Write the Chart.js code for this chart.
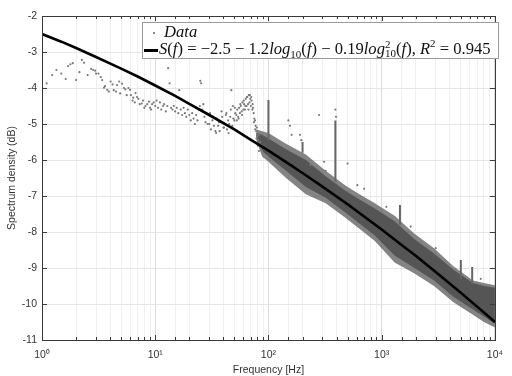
<!DOCTYPE html>
<html>
<head>
<meta charset="utf-8">
<script src="https://cdn.jsdelivr.net/npm/chart.js@4.4.1/dist/chart.umd.min.js"></script>
<style>
  html, body { margin: 0; padding: 0; background: #fff; }
  #wrap { position: relative; width: 512px; height: 376px; }
  #legend {
    position: absolute; left: 142px; top: 22px; width: 357px; height: 37px;
    background: #fff; border: 1px solid #9a9a9a; box-sizing: border-box;
    font-family: "Liberation Serif", "DejaVu Serif", serif; font-size: 16.6px; color: #111;
  }
  #legend .row { position: absolute; left: 0; white-space: nowrap; line-height: 16px; }
  #legend .dot { position: absolute; left: 10px; top: 8px; width: 2px; height: 2px; background: #888; }
  #legend .bar { position: absolute; left: 1px; top: 8px; width: 14px; height: 3px; background: #000; }
  #legend sub, #legend sup { font-size: 11px; line-height: 0; }
  #legend .ss { display: inline-block; vertical-align: middle; line-height: 9px; font-size: 11px; text-align: left; margin-top: -2px; }
</style>
</head>
<body>
<div id="wrap">
  <canvas id="chart" width="512" height="376"></canvas>
  <div id="legend">
    <div class="row" style="top:1px; width:100%;"><span class="dot"></span><i style="position:absolute; left:21px;">Data</i></div>
    <div class="row" style="top:18px; width:100%;"><span class="bar"></span><span style="position:absolute; left:16px;"><i>S</i>(<i>f</i>) = −2.5 − 1.2<i>log</i><sub>10</sub>(<i>f</i>) − 0.19<i>log</i><span class="ss">2<br>10</span>(<i>f</i>), <i>R</i><sup>2</sup> = 0.945</span></div>
  </div>
</div>
<script>
const dataFreq = [
  1.1, 1.23, 1.34, 1.48, 1.62, 1.7, 1.78, 1.87, 2.0, 2.14, 2.25, 2.35, 2.53, 2.72, 2.83, 2.95, 3.15, 3.4, 3.53, 3.77, 4.04, 4.3, 4.6, 4.8, 5.1, 5.45, 5.8, 6.1, 6.4, 6.7, 7.1, 7.6, 8.2, 8.8, 9.4, 10,
  3.0, 3.3, 3.6, 3.9, 4.2, 4.5, 4.9, 5.3, 5.6, 6.0, 6.3, 6.6, 6.9, 7.3, 7.8, 8.0, 8.5, 9.0, 9.2, 9.7,
  10.3, 10.6, 11, 11.3, 11.7, 12, 12.4, 12.8, 13, 13.4, 13.8, 14.2, 14.6, 15, 15.5, 16, 16.3, 16.8, 17.3, 17.8, 18.3, 18.8, 19.4, 20, 20.6, 21.2, 21.8, 22.4, 23, 23.6, 24.2, 24.8, 25, 25.4, 26, 26.6, 27.2, 27.8, 28.4, 29,
  30, 31, 32, 33, 34, 35, 36, 37, 38, 39, 40, 41, 42, 43, 44, 45, 46, 47, 48, 49, 50, 51,
  30.5, 32.5, 34.5, 36.5, 38.5, 40.5, 42.5, 44.5, 46.5, 48.5, 50.5,
  52, 53, 54, 55, 56, 57, 58, 59, 60, 61, 62, 63, 64, 65, 66, 67, 68, 69, 70, 71, 72, 73,
  52.5, 54.5, 56.5, 58.5, 60.5, 62.5, 64.5, 66.5, 68.5, 70.5, 72.5,
  74, 75, 76, 77, 78, 79, 80, 81, 82, 83, 84, 85, 86, 87, 88, 74.5, 76.5, 78.5, 80.5, 82.5,
  150, 155, 160, 190, 195, 235, 280, 310, 320, 390, 395, 500, 610, 700, 1100, 1800, 2200, 3000, 7500
];
const dataSpec = [
  -3.87, -3.64, -3.5, -3.6, -3.75, -3.39, -3.34, -3.31, -3.78, -3.56, -3.22, -3.3, -3.64, -3.47, -3.5, -3.52, -3.6, -3.78, -3.99, -4.05, -3.82, -4.06, -3.92, -3.82, -3.88, -4.04, -4.0, -4.2, -4.27, -4.14, -4.3, -4.43, -4.5, -4.38, -4.45, -4.5,
  -3.6, -3.7, -3.95, -4.1, -3.9, -4.1, -4.15, -4.0, -4.2, -4.05, -4.35, -4.4, -4.25, -4.45, -4.35, -4.55, -4.45, -4.55, -4.6, -4.4,
  -4.35, -4.55, -4.4, -4.6, -4.5, -4.45, -4.65, -4.5, -3.45, -3.87, -4.55, -4.6, -4.5, -4.65, -4.55, -4.7, -4.06, -4.6, -4.75, -4.55, -4.7, -4.8, -4.6, -4.75, -4.9, -4.7, -4.85, -5.0, -4.75, -4.9, -4.6, -4.5, -3.8, -3.87, -4.6, -4.45, -4.8, -4.95, -4.7, -5.0,
  -5.0, -5.15, -4.9, -5.05, -5.2, -4.85, -5.05, -5.2, -4.95, -4.8, -5.1, -5.0, -4.75, -5.15, -4.9, -5.0, -4.8, -4.06, -5.05, -4.85, -4.9, -4.7,
  -4.7, -4.8, -5.25, -4.95, -4.65, -5.1, -4.7, -5.25, -4.6, -4.5, -4.55,
  -4.75, -4.6, -4.8, -4.55, -4.7, -4.5, -4.65, -4.4, -4.6, -4.45, -4.6, -4.3, -4.5, -4.25, -4.45, -4.2, -4.4, -4.3, -4.5, -4.35, -4.6, -4.55,
  -4.9, -4.85, -4.45, -4.75, -4.35, -4.5, -4.25, -4.6, -4.2, -4.25, -4.45,
  -4.7, -4.85, -4.9, -5.05, -5.2, -5.1, -5.35, -5.45, -5.3, -5.55, -5.6, -5.5, -5.7, -5.6, -5.75, -4.95, -5.15, -5.4, -5.6, -5.75,
  -4.9, -5.05, -5.3, -5.3, -5.45, -6.14, -4.75, -6.05, -6.3, -4.6, -4.8, -6.1, -6.7, -6.8, -7.3, -7.85, -8.3, -8.45, -9.3
];

// dense part of the cloud: core edges and the fainter fringe round it
const bandFreq   = [78, 88, 100, 143, 214, 320, 475, 600, 870, 1300, 1950, 2900, 4300, 6400, 8000, 10000];
const bandUpper  = [-5.25, -5.3, -5.4, -5.7, -6.0, -6.45, -6.85, -7.05, -7.35, -7.7, -8.2, -8.6, -9.05, -9.42, -9.5, -9.55];
const bandLower  = [-5.35, -5.75, -5.9, -6.3, -6.75, -7.05, -7.45, -7.7, -8.1, -8.65, -9.0, -9.35, -9.8, -10.15, -10.35, -10.55];
const fringeUpper = [-5.15, -5.2, -5.25, -5.55, -5.85, -6.3, -6.7, -6.9, -7.2, -7.55, -8.05, -8.45, -8.95, -9.35, -9.42, -9.48];
const fringeLower = [-5.45, -5.9, -6.05, -6.5, -6.95, -7.2, -7.6, -7.85, -8.25, -8.85, -9.15, -9.5, -9.95, -10.3, -10.5, -10.65];

// narrow peaks
const spikeFreq   = [100, 200, 390, 1450, 5000, 6300];
const spikeTop    = [-4.33, -5.5, -4.9, -7.25, -8.78, -8.97];
const spikeBottom = [-5.45, -5.8, -6.6, -7.8, -9.3, -9.45];

// fitted curve
const fitFreq = [1, 1.5, 2, 3, 5, 7, 10, 15, 20, 30, 50, 70, 100, 150, 200, 300, 500, 700, 1000, 1500, 2000, 3000, 5000, 7000, 10000];
const fitSpec = [-2.5, -2.72, -2.89, -3.14, -3.46, -3.68, -3.93, -4.22, -4.44, -4.75, -5.15, -5.44, -5.74, -6.1, -6.36, -6.74, -7.23, -7.57, -7.93, -8.36, -8.66, -9.11, -9.69, -10.08, -10.5];

const yTicks = [-11, -10, -9, -8, -7, -6, -5, -4, -3, -2];
const sup = { '0': '⁰', '1': '¹', '2': '²', '3': '³', '4': '⁴' };

const isDecade = v => Math.abs(Math.log10(v) - Math.round(Math.log10(v))) < 1e-9;
const pairs = (xs, ys) => xs.map((x, i) => ({ x: x, y: ys[i] }));

const spikeData = [];
spikeFreq.forEach((f, i) => {
  spikeData.push({ x: f, y: spikeTop[i] }, { x: f, y: spikeBottom[i] }, { x: f, y: null });
});

const frame = {
  id: 'frame',
  afterDraw(chart) {
    const { ctx, chartArea: a, scales } = chart;
    ctx.save();
    ctx.strokeStyle = '#3a3a3a';
    ctx.lineWidth = 1;
    ctx.beginPath();
    scales.x.ticks.forEach(t => {
      const px = Math.round(scales.x.getPixelForValue(t.value)) + 0.5;
      const len = isDecade(t.value) ? 5 : 3;
      ctx.moveTo(px, a.bottom); ctx.lineTo(px, a.bottom - len);
      ctx.moveTo(px, a.top); ctx.lineTo(px, a.top + len);
    });
    yTicks.forEach(v => {
      const py = Math.round(scales.y.getPixelForValue(v)) + 0.5;
      ctx.moveTo(a.left, py); ctx.lineTo(a.left + 5, py);
      ctx.moveTo(a.right, py); ctx.lineTo(a.right - 5, py);
    });
    ctx.stroke();
    ctx.strokeRect(Math.round(a.left) + 0.5, Math.round(a.top) + 0.5, Math.round(a.right - a.left), Math.round(a.bottom - a.top));
    ctx.restore();
  }
};

new Chart(document.getElementById('chart'), {
  type: 'scatter',
  data: {
    datasets: [
      {
        label: 'fit', data: pairs(fitFreq, fitSpec),
        showLine: true, borderColor: '#000', borderWidth: 2.6, pointRadius: 0,
        tension: 0, order: 0
      },
      {
        label: 'fringe upper', data: pairs(bandFreq, fringeUpper),
        showLine: true, borderWidth: 0, pointRadius: 0, fill: false, order: 5
      },
      {
        label: 'fringe lower', data: pairs(bandFreq, fringeLower),
        showLine: true, borderWidth: 0, pointRadius: 0,
        fill: 1, backgroundColor: 'rgba(85,85,85,0.72)', order: 5
      },
      {
        label: 'upper', data: pairs(bandFreq, bandUpper),
        showLine: true, borderWidth: 0, pointRadius: 0, fill: false, order: 4
      },
      {
        label: 'lower', data: pairs(bandFreq, bandLower),
        showLine: true, borderWidth: 0, pointRadius: 0,
        fill: 3, backgroundColor: '#555', order: 4
      },
      {
        label: 'spikes', data: spikeData,
        showLine: true, spanGaps: false, borderColor: '#666', borderWidth: 2, pointRadius: 0, order: 2
      },
      {
        label: 'Data', data: pairs(dataFreq, dataSpec),
        pointRadius: 1.1, pointBackgroundColor: '#7a7a7a', pointBorderWidth: 0, order: 1
      }
    ]
  },
  options: {
    responsive: false,
    animation: false,
    layout: { padding: { top: 16, right: 10, left: 0, bottom: 0 } },
    plugins: { legend: { display: false }, tooltip: { enabled: false } },
    scales: {
      x: {
        type: 'logarithmic', min: 1, max: 10000,
        afterFit: s => { s.height = 36; },
        grid: {
          drawTicks: false,
          color: c => c.tick && isDecade(c.tick.value) ? '#dcdcdc' : '#efefef'
        },
        border: { display: false },
        ticks: {
          autoSkip: false, maxRotation: 0, padding: 9,
          color: '#333', font: { family: 'Liberation Sans', size: 10.5 },
          callback: v => isDecade(v) ? '10' + sup[String(Math.round(Math.log10(v)))] : ''
        },
        title: {
          display: true, text: 'Frequency [Hz]', color: '#333',
          font: { family: 'Liberation Sans', size: 10.5 }, padding: { top: 0, bottom: 0 }
        }
      },
      y: {
        min: -11, max: -2,
        afterFit: s => { s.width = 42; },
        afterBuildTicks: s => { s.ticks = yTicks.map(v => ({ value: v })); },
        grid: { drawTicks: false, color: '#e6e6e6' },
        border: { display: false },
        ticks: {
          padding: 5, color: '#333', font: { family: 'Liberation Sans', size: 10.5 },
          callback: v => String(v)
        },
        title: {
          display: true, text: 'Spectrum density (dB)', color: '#333',
          font: { family: 'Liberation Sans', size: 10.5 }, padding: { top: 6, bottom: 0 }
        }
      }
    }
  },
  plugins: [frame]
});
</script>
</body>
</html>
